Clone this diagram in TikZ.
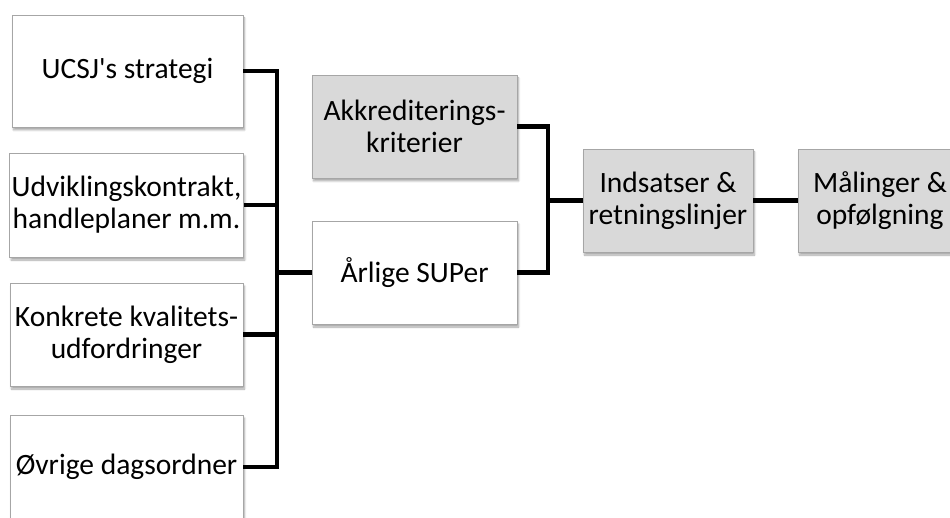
\documentclass[tikz,border=0pt]{standalone}
\usepackage{fontspec}
\setmainfont{Carlito}[Ligatures=TeXOff]
\usetikzlibrary{shadows.blur}
\definecolor{boxgray}{HTML}{D9D9D9}
\definecolor{edgegray}{HTML}{A6A6A6}
\tikzset{
  box/.style={draw=edgegray, line width=0.8pt, fill=white, inner sep=2pt,
    align=center, font=\fontsize{29.5}{32}\selectfont,
    blur shadow={shadow xshift=1.5pt, shadow yshift=-3pt, shadow blur steps=6, shadow opacity=35}},
  gbox/.style={box, fill=boxgray},
  conn/.style={line width=4.5pt, line join=miter, line cap=butt}
}
\begin{document}
\begin{tikzpicture}[x=1pt,y=-1pt]
\useasboundingbox (0,0) rectangle (950,518);
\clip (0,0) rectangle (950,518);
\node[box, minimum width=231pt, minimum height=112pt] (b1) at (127.5,71) {UCSJ's strategi};
\node[box, minimum width=233pt, minimum height=104pt] (b2) at (126.5,205) {Udviklingskontrakt,\\handleplaner m.m.};
\node[box, minimum width=233pt, minimum height=103pt] (b3) at (126.5,334.5) {Konkrete kvalitets-\\udfordringer};
\node[box, minimum width=233pt, minimum height=104pt] (b4) at (126.5,467) {Øvrige dagsordner};
\node[gbox, minimum width=205pt, minimum height=103pt] (akk) at (414.5,126.5) {Akkrediterings-\\kriterier};
\node[box, minimum width=205pt, minimum height=103pt] (sup) at (414.5,272.5) {Årlige SUPer};
\node[gbox, minimum width=170pt, minimum height=103pt] (ind) at (668,200.5) {Indsatser \&\\retningslinjer};
\node[gbox, minimum width=164pt, minimum height=103pt] (mal) at (880,200.5) {Målinger \&\\opfølgning};
\coordinate (j1) at (277,272.5);
\coordinate (j2) at (548,200.5);
\draw[conn] (b1.east) -| (j1) |- (b4.east);
\draw[conn] (b2.east) -- (b2.east -| j1);
\draw[conn] (b3.east) -- (b3.east -| j1);
\draw[conn] (j1) -- (sup.west);
\draw[conn] (akk.east) -| (j2) |- (sup.east);
\draw[conn] (j2) -- (ind.west);
\draw[conn] (ind.east) -- (mal.west);
\end{tikzpicture}
\end{document}
